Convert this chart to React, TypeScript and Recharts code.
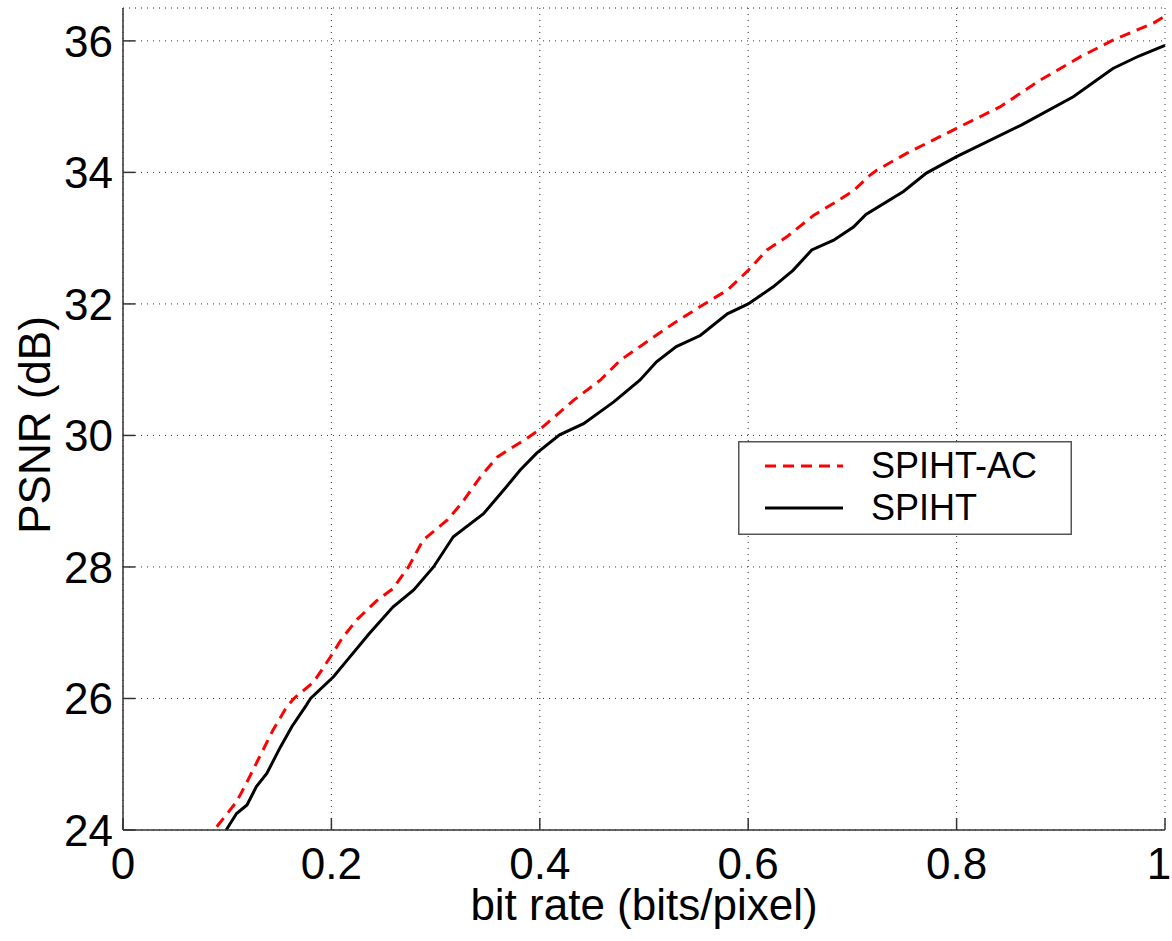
import { LineChart, Line, XAxis, YAxis, CartesianGrid, Legend } from 'recharts'

// SPIHT-AC (arithmetic coded) rate / PSNR
const taxaAC = [
  0.09, 0.109, 0.119, 0.131, 0.144, 0.157, 0.164, 0.183, 0.199, 0.21, 0.224, 0.243, 0.259,
  0.274, 0.288, 0.311, 0.325, 0.343, 0.359, 0.387, 0.4, 0.432, 0.458, 0.477, 0.496, 0.528,
  0.554, 0.58, 0.6, 0.618, 0.637, 0.663, 0.682, 0.701, 0.717, 0.723, 0.752, 0.8, 0.842, 0.88,
  0.919, 0.95, 0.989, 1.0,
]
const psnrAC = [
  24.05, 24.43, 24.73, 25.11, 25.52, 25.87, 26.0, 26.25, 26.63, 26.91, 27.19, 27.48, 27.67,
  28.0, 28.41, 28.71, 28.97, 29.37, 29.67, 29.95, 30.09, 30.53, 30.84, 31.14, 31.35, 31.7,
  31.96, 32.21, 32.51, 32.82, 33.02, 33.35, 33.53, 33.72, 33.96, 34.03, 34.29, 34.67, 35.0,
  35.4, 35.76, 36.01, 36.27, 36.38,
]

// plain SPIHT rate / PSNR
const taxaSP = [
  0.099, 0.109, 0.119, 0.128, 0.138, 0.151, 0.162, 0.176, 0.18, 0.202, 0.215, 0.236, 0.259,
  0.279, 0.298, 0.317, 0.346, 0.368, 0.381, 0.397, 0.419, 0.442, 0.471, 0.496, 0.512, 0.531,
  0.554, 0.58, 0.6, 0.624, 0.643, 0.661, 0.682, 0.701, 0.713, 0.749, 0.771, 0.8, 0.862, 0.912,
  0.95, 0.975, 1.0,
]
const psnrSP = [
  24.0, 24.25, 24.38, 24.66, 24.86, 25.26, 25.57, 25.9, 26.0, 26.33, 26.58, 26.98, 27.39,
  27.65, 28.0, 28.46, 28.81, 29.22, 29.47, 29.73, 30.01, 30.18, 30.51, 30.84, 31.12, 31.35,
  31.52, 31.85, 32.0, 32.26, 32.51, 32.82, 32.97, 33.17, 33.36, 33.71, 33.99, 34.24, 34.72,
  35.15, 35.58, 35.77, 35.93,
]

const series = ['SPIHT-AC', 'SPIHT']
const ticksX = [0, 0.2, 0.4, 0.6, 0.8, 1]
const ticksY = [24, 26, 28, 30, 32, 34, 36]

const dadosAC = taxaAC.map((x, i) => ({ x, psnr: psnrAC[i] }))
const dadosSP = taxaSP.map((x, i) => ({ x, psnr: psnrSP[i] }))

const fonte = '"Liberation Sans", Arial, Helvetica, sans-serif'
const tickStyle = { fontSize: 44, fill: '#000', fontFamily: fonte }

// x tick text; the last one is pulled in so it stays inside the frame
function TickX({ x, y, payload }: any) {
  const ultimo = payload.value === ticksX[ticksX.length - 1]
  return (
    <text
      x={ultimo ? x - 6 : x}
      y={y}
      dy="0.71em"
      textAnchor="middle"
      {...tickStyle}
    >
      {payload.value}
    </text>
  )
}

function Legenda({ payload }: any) {
  const itens = [...(payload ?? [])].sort(
    (a: any, b: any) => series.indexOf(a.value) - series.indexOf(b.value),
  )
  return (
    <svg width={334} height={94} style={{ display: 'block' }}>
      <rect x={0.75} y={0.75} width={332.5} height={92.5} fill="#fff" stroke="#555" strokeWidth={1.5} />
      {itens.map((it: any, i: number) => {
        const cy = 25 + i * 42
        return (
          <g key={it.value}>
            <line
              x1={27}
              x2={105}
              y1={cy}
              y2={cy}
              stroke={it.color}
              strokeWidth={3}
              strokeDasharray={it.payload?.strokeDasharray}
            />
            <text x={133} y={cy + 12} fontSize={36} fill="#000" fontFamily={fonte}>
              {it.value}
            </text>
          </g>
        )
      })}
    </svg>
  )
}

export default function App() {
  return (
    <div style={{ position: 'absolute', left: 0, top: 0, background: '#fff' }}>
      <LineChart
        width={1172}
        height={941}
        margin={{ top: 8, right: 7, bottom: 0, left: 0 }}
        style={{ fontFamily: fonte }}
      >
        <CartesianGrid stroke="#333" strokeDasharray="1 5" strokeWidth={1} />
        <XAxis
          type="number"
          dataKey="x"
          domain={[0, 1]}
          ticks={ticksX}
          interval={0}
          height={111}
          tickSize={-12}
          tickMargin={30}
          tick={<TickX />}
          axisLine={{ stroke: '#333', strokeWidth: 1.5 }}
          tickLine={{ stroke: '#333', strokeWidth: 1.5 }}
          allowDuplicatedCategory={false}
          label={{
            content: () => (
              <text x={644} y={920} textAnchor="middle" fontSize={44} fill="#000" fontFamily={fonte}>
                bit rate (bits/pixel)
              </text>
            ),
          }}
        />
        <YAxis
          type="number"
          domain={[24, 36.5]}
          ticks={ticksY}
          interval={0}
          width={123}
          tickSize={-12}
          tickMargin={22}
          tick={tickStyle}
          axisLine={{ stroke: '#333', strokeWidth: 1.5 }}
          tickLine={{ stroke: '#333', strokeWidth: 1.5 }}
          label={{
            content: () => (
              <text
                x={50}
                y={425}
                transform="rotate(-90 50 425)"
                textAnchor="middle"
                fontSize={44}
                fill="#000"
                fontFamily={fonte}
              >
                PSNR (dB)
              </text>
            ),
          }}
        />
        <Legend
          layout="horizontal"
          verticalAlign="middle"
          align="center"
          itemSorter={null}
          wrapperStyle={{ left: 738, top: 441, width: 334, height: 94 }}
          content={Legenda}
        />
        <Line
          data={dadosAC}
          dataKey="psnr"
          name="SPIHT-AC"
          type="linear"
          stroke="#ff0000"
          strokeWidth={3}
          strokeDasharray="11 7"
          dot={false}
          isAnimationActive={false}
        />
        <Line
          data={dadosSP}
          dataKey="psnr"
          name="SPIHT"
          type="linear"
          stroke="#000"
          strokeWidth={3}
          dot={false}
          isAnimationActive={false}
        />
      </LineChart>
    </div>
  )
}
